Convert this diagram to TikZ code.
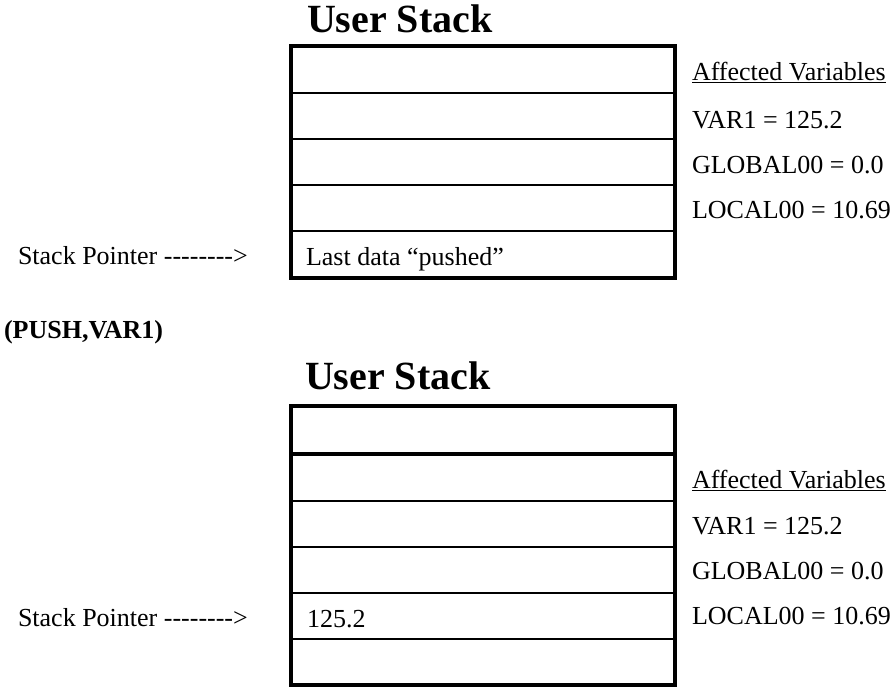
\documentclass[tikz,border=0pt]{standalone}
\usepackage{fontspec}
\setmainfont{Liberation Serif}
\tikzset{
  px/.style={x=0.75pt,y=-0.75pt},
  txt/.style={anchor=base west,inner sep=0pt,outer sep=0pt,font=\fontsize{19.5}{23}\selectfont},
  ttl/.style={anchor=base west,inner sep=0pt,outer sep=0pt,font=\fontsize{30}{34}\selectfont\bfseries},
  btxt/.style={txt,font=\fontsize{19.5}{23}\selectfont\bfseries},
  outer/.style={line width=3pt},
  inner/.style={line width=1.5pt},
  thick row/.style={line width=3pt}
}
\begin{document}
\begin{tikzpicture}[px]
\useasboundingbox (0,0) rectangle (895,687);
% ---------- top stack ----------
\node[ttl] (t1) at (307,32) {User Stack};
\draw[inner] (291,93) -- (674.5,93);
\draw[inner] (291,139) -- (674.5,139);
\draw[inner] (291,185) -- (674.5,185);
\draw[inner] (291,231) -- (674.5,231);
\draw[outer] (291,46) rectangle (674.5,277.5);
\node[txt] (c1) at (306,265) {Last data “pushed”};
\node[txt] (sp1) at (18,264) {Stack Pointer -{}-{}-{}-{}-{}-{}-{}-{}>};
\node[txt] (a1) at (692,80) {\underline{Affected Variables}};
\node[txt] (v1) at (692,128) {VAR1 = 125.2};
\node[txt] (g1) at (692,173) {GLOBAL00 = 0.0};
\node[txt] (l1) at (692,218) {LOCAL00 = 10.69};
% ---------- operation ----------
\node[btxt] (op) at (4,338) {(PUSH,VAR1)};
% ---------- bottom stack ----------
\node[ttl] (t2) at (305,389) {User Stack};
\draw[thick row] (291,454) -- (674.5,454);
\draw[inner] (291,501) -- (674.5,501);
\draw[inner] (291,547) -- (674.5,547);
\draw[inner] (291,593) -- (674.5,593);
\draw[inner] (291,639) -- (674.5,639);
\draw[outer] (291,406) rectangle (674.5,685);
\node[txt] (c2) at (307,627) {125.2};
\node[txt] (sp2) at (18,626) {Stack Pointer -{}-{}-{}-{}-{}-{}-{}-{}>};
\node[txt] (a2) at (692,488) {\underline{Affected Variables}};
\node[txt] (v2) at (692,534) {VAR1 = 125.2};
\node[txt] (g2) at (692,579) {GLOBAL00 = 0.0};
\node[txt] (l2) at (692,624) {LOCAL00 = 10.69};
\end{tikzpicture}
\end{document}
